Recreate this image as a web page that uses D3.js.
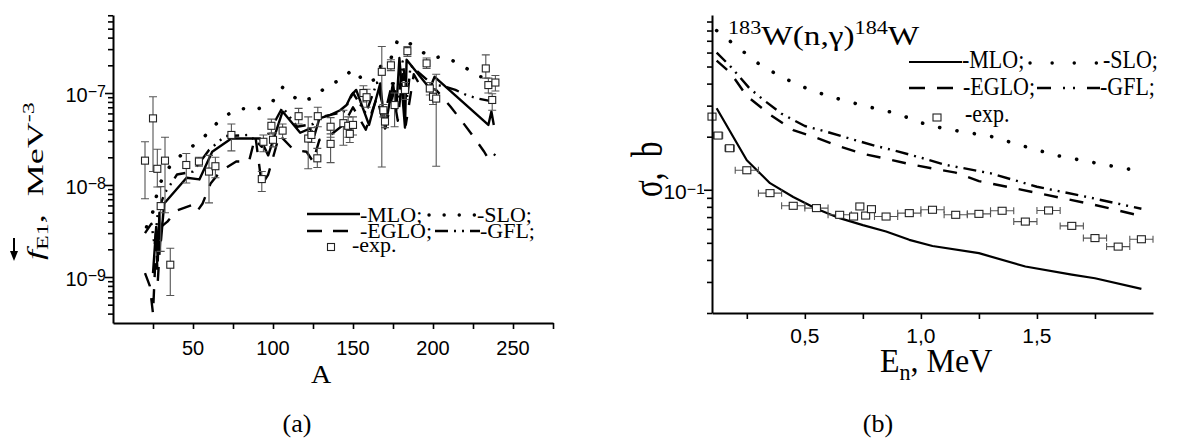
<!DOCTYPE html>
<html><head><meta charset="utf-8">
<script src="https://cdn.jsdelivr.net/npm/d3@7/dist/d3.min.js"></script>
<style>html,body{margin:0;padding:0;background:#fff}svg{display:block}</style>
</head><body>
<svg id="chart" width="1183" height="442"></svg>
<script>
// ---------- (a) E1 photon strength function vs. mass number A ----------
const strengthMLO = [[25,1.1e-9],[27,3.5e-9],[28,1.5e-9],[29,5e-9],[30,2.5e-9],[32,6.3e-9],[46,1.2e-8],[54,1.15e-8],[62,2.3e-8],[74,3.2e-8],[92,3.2e-8],[97,2.1e-8],[106,6.3e-8],[117,3.7e-8],[123,4.1e-8],[126,3.5e-8],[129,5.3e-8],[136,5.8e-8],[142,6.5e-8],[146,7.4e-8],[149,9.5e-8],[152,1.08e-7],[160,4.5e-8],[167,1.27e-7],[170,4.1e-8],[175,1.28e-7],[177,6.5e-8],[179,2.4e-7],[182.5,4.2e-8],[183.5,2.3e-7],[198,1.12e-7],[201,1.5e-7],[234.6,4.5e-8],[236.5,6.3e-8],[238,4.5e-8]];
const strengthSLO = [[21,3.5e-9],[24,4.5e-9],[26,6e-9],[28,9e-9],[31,1.2e-8],[37.5,1.8e-8],[48,2.5e-8],[59,3.6e-8],[68,5.4e-8],[79,6.8e-8],[90,6.6e-8],[100,8.2e-8],[106,1.15e-7],[117,8e-8],[125,8.9e-8],[134,1.19e-7],[144,1.44e-7],[148,1.7e-7],[151,1.8e-7],[157,1.3e-7],[164,1.4e-7],[168,2.1e-7],[173,2.2e-7],[178,3.8e-7],[184,3.6e-7],[192,2.9e-7],[199,2.4e-7],[207,2.5e-7],[218,2e-7],[229,1.5e-7],[239,1.5e-7]];
const strengthEGLO = [[20,1.1e-9],[23,8e-10],[25,4e-10],[27,2.5e-9],[28,9e-10],[30,3.5e-9],[34,4e-9],[40,5.3e-9],[51,6.2e-9],[53,5.3e-9],[56,6.3e-9],[61,1.04e-8],[67,1.4e-8],[77,1.8e-8],[85,1.8e-8],[89,3.4e-8],[93,1.0e-8],[97,1.3e-8],[104,3.5e-8],[113,2.4e-8],[121,2.3e-8],[125,1.8e-8],[129,3.1e-8],[136,3.5e-8],[144,4.5e-8],[150,7e-8],[158,4e-8],[165,9e-8],[170,4e-8],[175,1.0e-7],[178,5e-8],[181,1.6e-7],[183,4.5e-8],[188,1.6e-7],[192,1.2e-7],[202,1.08e-7],[211,7.1e-8],[219,4.7e-8],[225,3.4e-8],[232,2.3e-8],[234,2.0e-8],[236,2.3e-8],[239,2.1e-8]];
const strengthGFL = [[20,3.0e-9],[24,3.8e-9],[26,2.2e-9],[28,5e-9],[32,8e-9],[40,1.3e-8],[50,1.4e-8],[60,2.4e-8],[70,3.4e-8],[85,3.5e-8],[93,2.6e-8],[100,4.5e-8],[106,7e-8],[115,4.3e-8],[125,4.6e-8],[130,5.5e-8],[144,6.2e-8],[150,1.0e-7],[158,6e-8],[165,1.3e-7],[170,6e-8],[175,1.4e-7],[178,7e-8],[181,2.2e-7],[184,9e-8],[186,2.0e-7],[200,1.22e-7],[206,1.2e-7],[214,1.08e-7],[221,9.5e-8],[228,8.7e-8],[237,8.1e-8]];

const expA  = [20,25,27.7,29.8,32.5,35.8,45.8,53.7,60,64,74,93,94,99,100,106,116,122,124,127.7,128,136,136,144,147,148,150,156.5,158.5,168,169,170,173.7,176,182.5,184,196,198,200,202,233,234.6,237,239];
const expF  = [1.84e-8,5.3e-8,1.5e-8,5.9e-9,1.84e-8,1.36e-9,1.65e-8,1.8e-8,1.4e-8,1.6e-8,3.5e-8,1.16e-8,2.95e-8,4.4e-8,3.1e-8,3.9e-8,5.6e-8,3.2e-8,3.5e-8,1.95e-8,5.6e-8,4.3e-8,2.8e-8,4.7e-8,4.4e-8,3.6e-8,4.5e-8,1.0e-7,9e-8,1.7e-7,6.5e-8,4.9e-8,2.0e-7,7.4e-8,1.08e-7,2.85e-7,2.1e-7,1.12e-7,9.1e-8,8.7e-8,1.85e-7,1.22e-7,8.4e-8,1.3e-7];
const expLo = [7.1e-9,1.4e-8,9.5e-9,1.9e-9,5e-9,6.3e-10,1.05e-8,1.6e-8,6.4e-9,1.2e-8,2.35e-8,8.5e-9,2.3e-8,3.6e-8,2.6e-8,3.2e-8,4.6e-8,1.5e-8,2.9e-8,1.55e-8,4.3e-8,3.3e-8,1.75e-8,2.7e-8,3.3e-8,2.9e-8,3.5e-8,8e-8,7e-8,1.57e-8,5.5e-8,4.2e-8,1.75e-7,4.3e-8,8.5e-8,2.5e-7,1.85e-7,9.5e-8,7.5e-8,1.6e-8,1.45e-7,1.0e-7,6.5e-8,1.05e-7];
const expHi = [2.95e-8,9.1e-8,2.45e-8,9.6e-9,3.3e-8,2.05e-9,2.2e-8,2.0e-8,2.1e-8,2.0e-8,4.6e-8,1.4e-8,3.5e-8,5.2e-8,3.7e-8,4.6e-8,6.8e-8,5.5e-8,4.2e-8,2.5e-8,7e-8,5.4e-8,3.6e-8,6.5e-8,5.5e-8,4.4e-8,5.5e-8,1.2e-7,1.1e-7,3.2e-7,7.5e-8,5.8e-8,2.3e-7,1.0e-7,1.3e-7,3.2e-7,2.4e-7,1.3e-7,1.1e-7,1.6e-7,2.6e-7,1.45e-7,9.8e-8,1.55e-7];

const ticksA = [25,50,75,100,125,150,175,200,225,250,275];
const labelledA = [50,100,150,200,250];
const decadesF = [-9,-8,-7];

// ---------- (b) 183W(n,γ)184W capture cross-section ----------
const enMLO  = [0.12,0.25,0.35,0.45,0.55,0.65,0.75,0.85,0.95,1.05,1.25,1.45,1.65,1.75,1.95];
const sigMLO = [0.29,0.147,0.109,0.091,0.078,0.069,0.063,0.058,0.052,0.048,0.0437,0.0367,0.033,0.0315,0.0274];
const enSLO  = [0.12,0.2,0.3,0.4,0.5,0.6,0.7,0.8,0.9,1.0,1.1,1.3,1.5,1.6,1.8,1.95];
const sigSLO = [0.80,0.66,0.52,0.435,0.38,0.34,0.313,0.29,0.27,0.24,0.222,0.201,0.168,0.155,0.138,0.127];
const enEGLO  = [0.12,0.18,0.25,0.35,0.45,0.55,0.65,0.75,0.85,0.95,1.05,1.15,1.25,1.5,1.75,1.95];
const sigEGLO = [0.54,0.46,0.34,0.267,0.218,0.197,0.176,0.16,0.150,0.140,0.132,0.125,0.112,0.096,0.082,0.071];
const enGFL  = [0.12,0.18,0.26,0.32,0.4,0.5,0.6,0.7,0.8,0.9,1.0,1.1,1.3,1.5,1.7,1.95];
const sigGFL = [0.60,0.50,0.378,0.325,0.27,0.23,0.212,0.194,0.178,0.165,0.152,0.139,0.124,0.104,0.092,0.078];

const enExp  = [0.1,0.126,0.176,0.25,0.35,0.45,0.55,0.65,0.71,0.737,0.762,0.787,0.85,0.95,1.05,1.15,1.25,1.35,1.45,1.55,1.65,1.75,1.85,1.95];
const sigExp = [0.26,0.203,0.172,0.129,0.0957,0.0811,0.0787,0.0721,0.0705,0.0804,0.0714,0.0776,0.0705,0.0737,0.077,0.0721,0.073,0.076,0.066,0.0763,0.0624,0.0532,0.0476,0.0524];
const enErr  = [0,0.02,0.02,0.05,0.05,0.05,0.05,0.05,0,0,0,0,0.05,0.05,0.05,0.05,0.05,0.05,0.05,0.05,0.05,0.05,0.05,0.05];

const ticksEn = [0.25,0.5,0.75,1.0,1.25,1.5,1.75];
const labelledEn = ["0,5","1,0","1,5"];

// ---------- drawing ----------
const svg = d3.select("#chart");
const SERIF = "'Liberation Serif','Times New Roman',Times,serif";
const SANS = "'Liberation Sans',Arial,Helvetica,sans-serif";

const lineStyle = {
  MLO:  {w: 2.4, dash: null},
  SLO:  {w: 3.6, dash: "0.1,16", cap: "round"},
  EGLO: {w: 2.4, dash: "14,12"},
  GFL:  {w: 2.4, dash: "13,6,2,6,2,6"}
};

function styled(path, s) {
  path.attr("fill", "none").attr("stroke", "#000").attr("stroke-width", s.w)
    .attr("stroke-linejoin", "round");
  if (s.dash) path.attr("stroke-dasharray", s.dash);
  path.attr("stroke-linecap", s.cap || "butt");
  return path;
}

function logTickValues(lo, hi) {
  const out = [];
  for (let e = Math.floor(Math.log10(lo)); e <= Math.ceil(Math.log10(hi)); e++)
    for (let m = 1; m <= 9; m++) {
      const v = m * Math.pow(10, e);
      if (v >= lo * 0.999 && v <= hi * 1.001) out.push(v);
    }
  return out;
}
const isDecade = v => Math.abs(Math.log10(v) - Math.round(Math.log10(v))) < 1e-6;

function txt(g, x, y, opt) {
  return g.append("text")
    .attr("transform", `translate(${x},${y})` + (opt.rot ? " rotate(-90)" : "") + ` scale(${opt.kx || 1},${opt.ky || 1})`)
    .attr("font-family", opt.family || SERIF)
    .attr("font-size", opt.size)
    .attr("text-anchor", opt.anchor || "start")
    .attr("fill", "#000");
}

// power-of-ten tick label, right-aligned at x
function powerLabel(g, x, y, exp, size, supSize, ky) {
  const t = txt(g, x, y, {size, family: SANS, anchor: "end", ky});
  t.append("tspan").text("10");
  t.append("tspan").attr("dy", -5).attr("font-size", supSize).text("\u2212" + Math.abs(exp));
  return t;
}

// ===== panel (a) =====
const ga = svg.append("g");
const xa = d3.scaleLinear().domain([0, 275]).range([113, 553]);
const ya = d3.scaleLog().domain([Math.pow(10, -9.5), Math.pow(10, -6.152)]).range([323, 15]);

const lineA = d3.line().x(d => xa(d[0])).y(d => ya(d[1]));
styled(ga.append("path").attr("d", lineA(strengthEGLO)), lineStyle.EGLO);
styled(ga.append("path").attr("d", lineA(strengthGFL)), lineStyle.GFL);
styled(ga.append("path").attr("d", lineA(strengthSLO)), lineStyle.SLO);
styled(ga.append("path").attr("d", lineA(strengthMLO)), lineStyle.MLO);

// experimental points with vertical error bars
const expRows = expA.map((a, i) => ({a, f: expF[i], lo: expLo[i], hi: expHi[i]}));
const eb = ga.append("g").attr("stroke", "#555").attr("stroke-width", 1.1).attr("fill", "none");
expRows.forEach(r => {
  const x = xa(r.a);
  eb.append("path").attr("d",
    `M${x},${ya(r.hi)}V${ya(r.lo)}M${x - 4},${ya(r.hi)}H${x + 4}M${x - 4},${ya(r.lo)}H${x + 4}`);
});
ga.append("g").selectAll("rect").data(expRows).join("rect")
  .attr("x", d => xa(d.a) - 3.5).attr("y", d => ya(d.f) - 3.5)
  .attr("width", 7).attr("height", 7)
  .attr("fill", "#fff").attr("stroke", "#222").attr("stroke-width", 1.1);

// axes
const axA = ga.append("g").attr("transform", "translate(0,323)")
  .call(d3.axisBottom(xa).tickValues(ticksA).tickSize(6).tickSizeOuter(0).tickFormat(""));
const ayA = ga.append("g").attr("transform", "translate(113,0)")
  .call(d3.axisLeft(ya).tickValues(logTickValues(ya.domain()[0], ya.domain()[1])).tickSize(5).tickSizeOuter(0).tickFormat(""));
ayA.selectAll(".tick line").attr("x2", d => isDecade(d) ? -8 : -5);
[axA, ayA].forEach(ax => {
  ax.select(".domain").attr("stroke-width", 2);
  ax.selectAll(".tick line").attr("stroke-width", 1.6);
});

labelledA.forEach(v => {
  txt(ga, xa(v), 355, {size: 20, family: SANS, anchor: "middle"}).text(v);
});
decadesF.forEach(e => powerLabel(ga, 106, ya(Math.pow(10, e)) + 8.5, e, 20, 16, 1));

// axis titles
txt(ga, 321, 383, {size: 28, anchor: "middle", ky: 0.88}).text("A");
{
  const t = txt(ga, 43, 260, {size: 36, rot: true, ky: 0.66});
  t.append("tspan").attr("font-style", "italic").text("f");
  t.append("tspan").attr("font-size", 24).attr("dy", 7).text("E1");
  t.append("tspan").attr("dy", -7).text(",\u00a0\u00a0MeV");
  t.append("tspan").attr("font-size", 24).attr("dy", -14).text("-3");
}
// small arrow marker beside the y title
ga.append("path").attr("d", "M14,238V252").attr("stroke", "#000").attr("stroke-width", 2);
ga.append("path").attr("d", "M10,251L18,251L14,261Z").attr("fill", "#000");

// legend (a)
{
  const L = ga.append("g");
  styled(L.append("path").attr("d", "M307,214H360"), lineStyle.MLO);
  txt(L, 360, 222, {size: 22, ky: 0.92}).text("-MLO;");
  styled(L.append("path").attr("d", "M429,215H476"), {w: 3.4, dash: "0.1,15", cap: "round"});
  txt(L, 477, 222, {size: 22, ky: 0.92}).text("-SLO;");
  styled(L.append("path").attr("d", "M307,231H350"), {w: 2.4, dash: "15,11"});
  txt(L, 360, 238, {size: 22, ky: 0.92}).text("-EGLO;");
  styled(L.append("path").attr("d", "M435,231H480"), lineStyle.GFL);
  txt(L, 480, 238, {size: 22, ky: 0.92}).text("-GFL;");
  L.append("rect").attr("x", 327.5).attr("y", 243.5).attr("width", 7).attr("height", 7)
    .attr("fill", "#fff").attr("stroke", "#222").attr("stroke-width", 1.1);
  txt(L, 352, 252, {size: 22, ky: 0.92}).text("-exp.");
}
txt(ga, 297, 432, {size: 26, anchor: "middle"}).text("(a)");

// ===== panel (b) =====
const gb = svg.append("g");
const xb = d3.scaleLinear().domain([0.1, 2.0]).range([712, 1153]);
const yb = d3.scaleLog().domain([0.02, 0.98]).range([313, 15]);

const lineB = d3.line().x(d => xb(d[0])).y(d => yb(d[1]));
const zipB = (e, s) => e.map((v, i) => [v, s[i]]);
styled(gb.append("path").attr("d", lineB(zipB(enEGLO, sigEGLO))), lineStyle.EGLO);
styled(gb.append("path").attr("d", lineB(zipB(enGFL, sigGFL))), lineStyle.GFL);
styled(gb.append("path").attr("d", lineB(zipB(enSLO, sigSLO))), {w: 3.6, dash: "0.1,17.5", cap: "round"});
styled(gb.append("path").attr("d", lineB(zipB(enMLO, sigMLO))), {w: 2.2});

const expB = enExp.map((e, i) => ({e, s: sigExp[i], d: enErr[i]}));
const ebB = gb.append("g").attr("stroke", "#555").attr("stroke-width", 1.1).attr("fill", "none");
expB.filter(r => r.d > 0).forEach(r => {
  const y = yb(r.s), x0 = xb(r.e - r.d), x1 = xb(r.e + r.d);
  ebB.append("path").attr("d", `M${x0},${y}H${x1}M${x0},${y - 3.5}V${y + 3.5}M${x1},${y - 3.5}V${y + 3.5}`);
});
gb.append("g").selectAll("rect").data(expB).join("rect")
  .attr("x", d => xb(d.e) - 4).attr("y", d => yb(d.s) - 3.5)
  .attr("width", 8).attr("height", 7)
  .attr("fill", "#fff").attr("stroke", "#222").attr("stroke-width", 1.1);

const axB = gb.append("g").attr("transform", "translate(0,313)")
  .call(d3.axisBottom(xb).tickValues(ticksEn).tickSize(6).tickSizeOuter(0).tickFormat(""));
const ayB = gb.append("g").attr("transform", "translate(712,0)")
  .call(d3.axisLeft(yb).tickValues(logTickValues(0.02, 0.95)).tickSize(5).tickSizeOuter(0).tickFormat(""));
ayB.selectAll(".tick line").attr("x2", d => isDecade(d) ? -8 : -5);
[axB, ayB].forEach(ax => {
  ax.select(".domain").attr("stroke-width", 2);
  ax.selectAll(".tick line").attr("stroke-width", 1.6);
});
[0.5, 1.0, 1.5].forEach((v, i) => {
  txt(gb, xb(v), 343, {size: 21, family: SANS, anchor: "middle", ky: 0.92}).text(labelledEn[i]);
});
powerLabel(gb, 705, yb(0.1) + 9, -1, 21, 16, 0.92);

// axis titles (b)
{
  const t = txt(gb, 880, 372, {size: 32, ky: 1.04});
  t.append("tspan").text("E");
  t.append("tspan").attr("font-size", 22).attr("dy", 8).text("n");
  t.append("tspan").attr("dy", -8).text(", MeV");
}
txt(gb, 662, 197, {size: 31, rot: true, ky: 1.4}).text("\u03c3,\u00a0\u00a0b");

// reaction label
{
  const t = txt(gb, 728, 45, {size: 27});
  t.append("tspan").attr("font-size", 18).attr("dy", -11).text("183");
  t.append("tspan").attr("dy", 11).text("W(n,\u03b3)");
  t.append("tspan").attr("font-size", 18).attr("dy", -11).text("184");
  t.append("tspan").attr("dy", 11).text("W");
  const w = t.node().getBBox().width;
  t.attr("transform", `translate(728,45) scale(${192 / w},1)`);
}
// legend (b)
{
  const L = gb.append("g");
  styled(L.append("path").attr("d", "M909,62H962"), {w: 2.2});
  txt(L, 962, 68, {size: 22, ky: 1.12}).text("-MLO;");
  styled(L.append("path").attr("d", "M1030,63H1100"), {w: 3.4, dash: "0.1,22", cap: "round"});
  txt(L, 1103, 68, {size: 22, ky: 1.12}).text("-SLO;");
  styled(L.append("path").attr("d", "M909,88H954"), {w: 2.4, dash: "16,12"});
  txt(L, 963, 95, {size: 22, ky: 1.12}).text("-EGLO;");
  styled(L.append("path").attr("d", "M1037,88H1100"), {w: 2.4, dash: "14,12,2,8,2,12,14"});
  txt(L, 1100, 95, {size: 22, ky: 1.12}).text("-GFL;");
  L.append("rect").attr("x", 933).attr("y", 114).attr("width", 8).attr("height", 7)
    .attr("fill", "#fff").attr("stroke", "#222").attr("stroke-width", 1.1);
  txt(L, 965, 122, {size: 22, ky: 1.12}).text("-exp.");
}
txt(gb, 878, 432, {size: 26, anchor: "middle"}).text("(b)");
</script>
</body></html>
